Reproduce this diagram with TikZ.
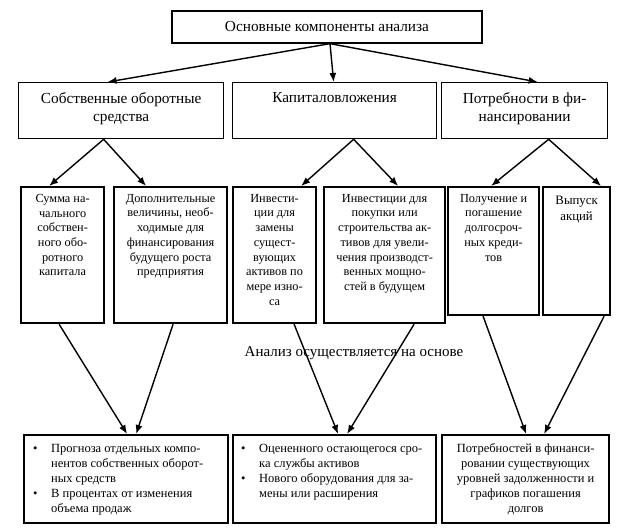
\documentclass[tikz,border=0pt]{standalone}
\usepackage{fontspec}
\setmainfont{Liberation Serif}
\usetikzlibrary{arrows.meta}
\begin{document}
\begin{tikzpicture}[x=1pt,y=-1pt,
 thinbox/.style={draw,line width=1.3pt,inner sep=0pt},
 thickbox/.style={draw,line width=2.2pt,inner sep=0pt},
 conn/.style={line width=1.4pt,-{Latex[length=9pt,width=7pt]}},
 lvlone/.style={font=\fontsize{15.3}{18}\selectfont,align=center,inner sep=0pt},
 lvltwo/.style={font=\fontsize{12.3}{14.7}\selectfont,align=center,inner sep=0pt},
 lvlthree/.style={font=\fontsize{12.5}{15}\selectfont,inner sep=0pt},
]
\useasboundingbox[fill=white] (0,0) rectangle (623,532);
% top
\node[thinbox,lvlone,minimum width=310,minimum height=32] (top) at (327,27) {Основные компоненты анализа};
% level 2
\node[thinbox,minimum width=205,minimum height=56,anchor=north west] (own) at (18,82) {};
\node[thinbox,minimum width=204,minimum height=56,anchor=north west] (cap) at (232,82) {};
\node[thinbox,minimum width=166,minimum height=56,anchor=north west] (need) at (441,82) {};
\node[lvlone,anchor=north] (ownt) at ([yshift=-10.5pt]own.north) {Собственные оборотные\\средства};
\node[lvlone,anchor=north] (capt) at ([yshift=-10.5pt]cap.north) {Капиталовложения};
\node[lvlone,anchor=north] (needt) at ([yshift=-10.5pt]need.north) {Потребности в фи-\\нансировании};
% level 3
\node[thickbox,minimum width=83,minimum height=136,anchor=north west] (a) at (20,186) {};
\node[thickbox,minimum width=113,minimum height=136,anchor=north west] (b) at (113,186) {};
\node[thickbox,minimum width=83,minimum height=136,anchor=north west] (c) at (232,186) {};
\node[thickbox,minimum width=121,minimum height=136,anchor=north west] (d) at (323,186) {};
\node[thickbox,minimum width=91,minimum height=128,anchor=north west] (e) at (447,186) {};
\node[thickbox,minimum width=67,minimum height=128,anchor=north west] (f) at (542,186) {};
\node[lvltwo,anchor=north] (at) at ([yshift=-8pt]a.north) {Сумма на-\\чального\\собствен-\\ного обо-\\ротного\\капитала};
\node[lvltwo,anchor=north] (bt) at ([yshift=-8pt]b.north) {Дополнительные\\величины, необ-\\ходимые для\\финансирования\\будущего роста\\предприятия};
\node[lvltwo,anchor=north] (ct) at ([yshift=-8pt]c.north) {Инвести-\\ции для\\замены\\сущест-\\вующих\\активов по\\мере изно-\\са};
\node[lvltwo,anchor=north] (dt) at ([yshift=-8pt]d.north) {Инвестиции для\\покупки или\\строительства ак-\\тивов для увели-\\чения производст-\\венных мощно-\\стей в будущем};
\node[lvltwo,anchor=north] (et) at ([yshift=-8pt]e.north) {Получение и\\погашение\\долгосроч-\\ных креди-\\тов};
\node[lvltwo,anchor=north,font=\fontsize{12.8}{15.7}\selectfont] (ft) at ([yshift=-10pt]f.north) {Выпуск\\акций};
% middle label
\node[font=\fontsize{15}{17}\selectfont,inner sep=0pt] (mid) at (354,353) {Анализ осуществляется на основе};
% bottom
\node[thickbox,minimum width=204,minimum height=88,anchor=north west] (B1) at (23,434) {};
\node[thickbox,minimum width=203,minimum height=88,anchor=north west] (B2) at (232,434) {};
\node[thickbox,minimum width=167,minimum height=88,anchor=north west] (B3) at (441,434) {};
\node[lvlthree,anchor=north west] (B1t) at ([xshift=10pt,yshift=-8pt]B1.north west)
 {\begin{tabular}{@{}p{18pt}@{}l@{}}\textbullet & Прогноза отдельных компо-\\ & нентов собственных оборот-\\ & ных средств\\ \textbullet & В процентах от изменения\\ & объема продаж\end{tabular}};
\node[lvlthree,anchor=north west] (B2t) at ([xshift=9pt,yshift=-8pt]B2.north west)
 {\begin{tabular}{@{}p{18pt}@{}l@{}}\textbullet & Оцененного остающегося сро-\\ & ка службы активов\\ \textbullet & Нового оборудования для за-\\ & мены или расширения\end{tabular}};
\node[lvlthree,align=center,anchor=north] (B3t) at ([yshift=-9pt]B3.north)
 {Потребностей в финанси-\\ровании существующих\\уровней задолженности и\\графиков погашения\\долгов};
% connectors
\draw[conn] ([xshift=3pt]top.south) -- ([xshift=-13.5pt]own.north);
\draw[conn] ([xshift=3pt]top.south) -- ([xshift=-1pt]cap.north);
\draw[conn] ([xshift=3pt]top.south) -- ([xshift=13pt]need.north);
\draw[conn] ([xshift=-17.5pt]own.south) -- ([xshift=-13.5pt]a.north);
\draw[conn] ([xshift=-17.5pt]own.south) -- ([xshift=-24.5pt]b.north);
\draw[conn] ([xshift=19pt]cap.south) -- ([xshift=26.5pt]c.north);
\draw[conn] ([xshift=19pt]cap.south) -- ([xshift=13.5pt]d.north);
\draw[conn] ([xshift=24pt]need.south) -- ([xshift=-2.5pt]e.north);
\draw[conn] ([xshift=24pt]need.south) -- ([xshift=24.5pt]f.north);
\draw[conn] ([xshift=-3.5pt]a.south) -- ([xshift=1pt]B1.north);
\draw[conn] ([xshift=2.5pt]b.south) -- ([xshift=10pt]B1.north);
\draw[conn] ([xshift=19.5pt]c.south) -- ([xshift=3.5pt]B2.north);
\draw[conn] ([xshift=29.5pt]d.south) -- ([xshift=12.5pt]B2.north);
\draw[conn] ([xshift=-10.5pt]e.south) -- ([xshift=0.5pt]B3.north);
\draw[conn] ([xshift=27.5pt]f.south) -- ([xshift=18.5pt]B3.north);
\end{tikzpicture}
\end{document}
